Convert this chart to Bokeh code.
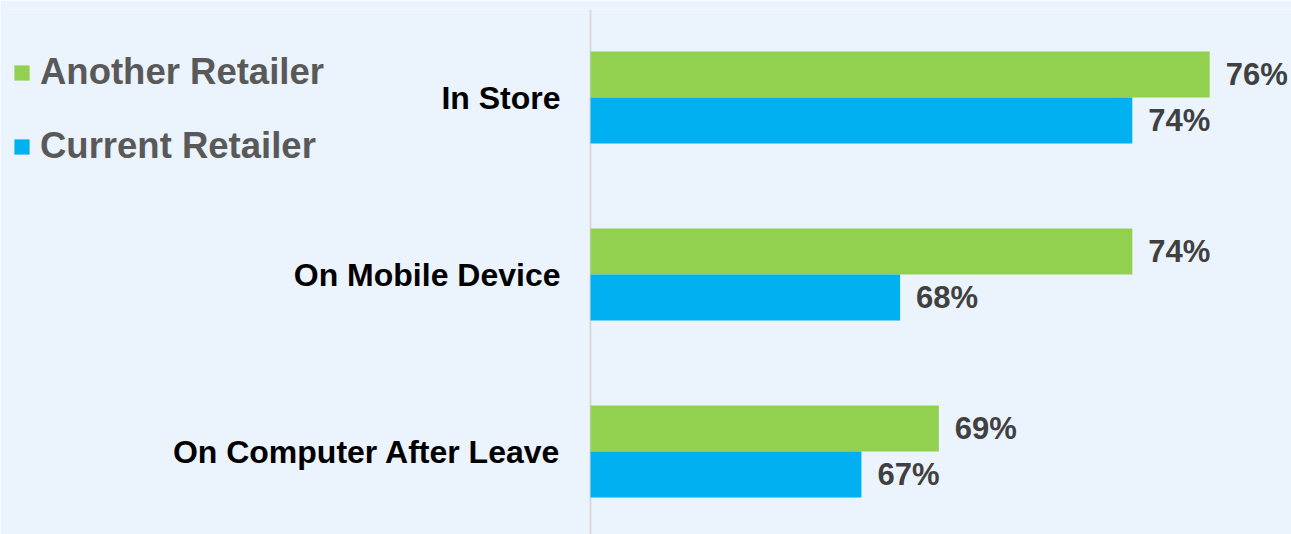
from bokeh.plotting import figure
from bokeh.models import ColumnDataSource, Range1d, Legend, LegendItem, Span
from bokeh.core.properties import value
from bokeh.embed import file_html
from bokeh.resources import INLINE

categories = ["In Store", "On Mobile Device", "On Computer After Leave"]
another_retailer = [76, 74, 69]
current_retailer = [74, 68, 67]
series_names = ["Another Retailer", "Current Retailer"]
series_colors = ["#92D050", "#00B0F0"]
axis_start = 60

BG = "#EBF4FD"
FONT = "Liberation Sans"

pos = list(range(len(categories)))
dodge = 0.13
bar_h = 0.26

src_a = ColumnDataSource(dict(
    y=[p_ - dodge for p_ in pos], v=another_retailer,
    lab=[f"{v}%" for v in another_retailer]))
src_c = ColumnDataSource(dict(
    y=[p_ + dodge for p_ in pos], v=current_retailer,
    lab=[f"{v}%" for v in current_retailer]))
src_cat = ColumnDataSource(dict(y=pos, x=[axis_start] * len(pos), cat=categories))

p = figure(width=1291, height=534, output_backend="svg", toolbar_location=None,
           x_range=Range1d(44.7545, 78.1137), y_range=Range1d(2.4689, -0.4972),
           x_axis_location=None, y_axis_location=None,
           min_border_left=0, min_border_right=0,
           min_border_top=9, min_border_bottom=0)
p.background_fill_color = BG
p.border_fill_color = BG
p.outline_line_color = None
p.xgrid.visible = False
p.ygrid.visible = False

p.add_layout(Span(location=axis_start, dimension="height", line_color="#D9D9D9",
                  line_width=2, level="underlay"))

ra = p.hbar(y="y", right="v", left=axis_start, height=bar_h, source=src_a,
            fill_color=series_colors[0], line_color=None)
rc = p.hbar(y="y", right="v", left=axis_start, height=bar_h, source=src_c,
            fill_color=series_colors[1], line_color=None)

for s in (src_a, src_c):
    p.text(x="v", y="y", text="lab", source=s, x_offset=16,
           text_font=value(FONT), text_font_style="bold", text_font_size="31px",
           text_color="#404040", text_align="left", text_baseline="middle")

p.text(x="x", y="y", text="cat", source=src_cat, x_offset=-30,
       text_font=value(FONT), text_font_style="bold", text_font_size="32px",
       text_color="#000000", text_align="right", text_baseline="middle")

legend = Legend(items=[LegendItem(label=series_names[0], renderers=[ra]),
                       LegendItem(label=series_names[1], renderers=[rc])],
                location=(12, 367), orientation="vertical",
                glyph_width=19, glyph_height=19, label_standoff=9,
                spacing=32, padding=0, margin=0,
                label_text_font=FONT, label_text_font_style="bold",
                label_text_font_size="36.5px", label_text_color="#595959",
                background_fill_alpha=0, border_line_color=None)
p.add_layout(legend, "center")

open("out.html", "w").write(file_html(p, INLINE))
